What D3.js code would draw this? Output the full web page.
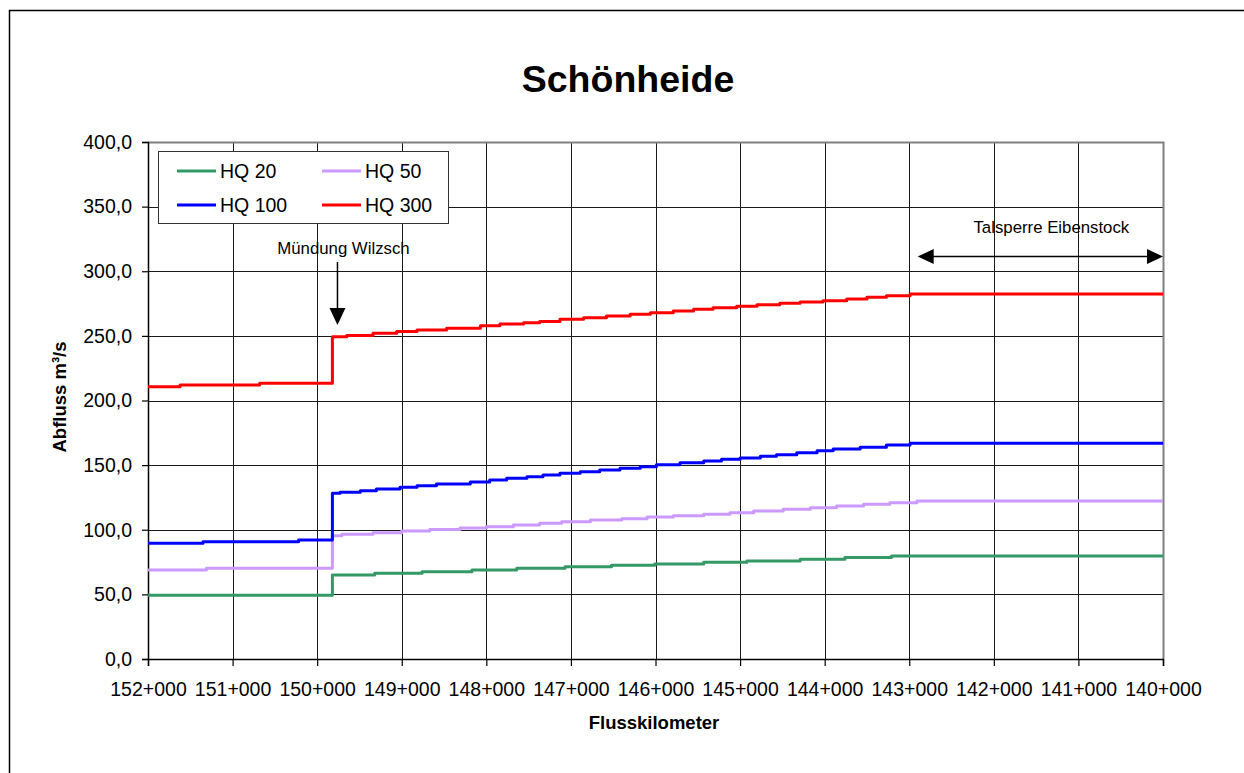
<!DOCTYPE html>
<html>
<head>
<meta charset="utf-8">
<script src="https://cdn.jsdelivr.net/npm/d3@7"></script>
<style>
  html, body { margin: 0; padding: 0; background: #fff; }
  svg { display: block; font-family: "Liberation Sans", Arial, sans-serif; }
</style>
</head>
<body>
<svg id="chart" width="1244" height="773"></svg>
<script>
// River kilometre ticks (flow direction left to right) and discharge ticks
const kmTicks = [152, 151, 150, 149, 148, 147, 146, 145, 144, 143, 142, 141, 140];
const qTicks = [0, 50, 100, 150, 200, 250, 300, 350, 400];

// Discharge profiles [km, m³/s]; each value holds until the next station
const hq20 = [
  [152.00, 49.3], [149.82, 65.0], [149.32, 66.3], [148.76, 67.6], [148.17, 68.9],
  [147.64, 70.3], [147.07, 71.4], [146.52, 72.5], [146.01, 73.5], [145.43, 74.8],
  [144.92, 75.8], [144.29, 77.1], [143.76, 78.5], [143.21, 79.7], [140.00, 79.7]
];
const hq50 = [
  [152.00, 68.9], [151.31, 70.2], [149.82, 95.4], [149.71, 96.5], [149.34, 97.7],
  [149.00, 99.0], [148.67, 100.1], [148.31, 101.4], [148.00, 102.4], [147.68, 103.7],
  [147.37, 105.0], [147.11, 106.2], [146.77, 107.5], [146.40, 108.6], [146.10, 109.9],
  [145.79, 110.9], [145.43, 112.0], [145.12, 113.2], [144.84, 114.5], [144.49, 115.8],
  [144.17, 117.1], [143.86, 118.4], [143.54, 119.7], [143.23, 120.9], [142.91, 122.2],
  [140.00, 122.2]
];
const hq100 = [
  [152.00, 89.5], [151.35, 90.8], [150.22, 92.1], [149.82, 128.2], [149.73, 129.0],
  [149.49, 130.2], [149.30, 131.5], [149.02, 132.8], [148.82, 134.1], [148.59, 135.4],
  [148.19, 137.0], [147.96, 138.5], [147.76, 139.8], [147.52, 141.1], [147.33, 142.4],
  [147.13, 143.7], [146.89, 144.9], [146.66, 146.2], [146.42, 147.5], [146.18, 148.8],
  [145.99, 150.3], [145.71, 151.9], [145.43, 153.2], [145.22, 154.5], [145.00, 155.5],
  [144.76, 156.8], [144.57, 158.1], [144.33, 159.6], [144.09, 161.2], [143.90, 162.5],
  [143.58, 163.8], [143.27, 165.6], [142.99, 166.9], [140.00, 166.9]
];
const hq300 = [
  [152.00, 210.7], [151.62, 212.0], [150.68, 213.3], [149.82, 249.4], [149.65, 250.2],
  [149.34, 252.0], [149.06, 253.3], [148.82, 254.5], [148.47, 255.9], [148.07, 257.9],
  [147.84, 259.2], [147.56, 260.2], [147.37, 261.2], [147.13, 262.8], [146.85, 264.1],
  [146.58, 265.4], [146.30, 266.7], [146.06, 267.9], [145.79, 269.2], [145.55, 270.6],
  [145.32, 271.8], [145.04, 272.9], [144.80, 274.1], [144.53, 275.2], [144.29, 276.2],
  [144.02, 277.2], [143.74, 278.5], [143.50, 279.8], [143.27, 281.1], [142.99, 282.4],
  [140.00, 282.4]
];

const seriesNames = ["HQ 20", "HQ 50", "HQ 100", "HQ 300"];
const seriesColors = ["#339966", "#CC99FF", "#0000FF", "#FF0000"];
const seriesData = [hq20, hq50, hq100, hq300];

// Annotations: tributary mouth and reservoir reach
const mouthKm = 149.76;
const reservoirFrom = 142.9, reservoirTo = 140.0;

const svg = d3.select("#chart");
const plotLeft = 148, plotRight = 1163, plotTop = 142, plotBottom = 659;

const x = d3.scaleLinear().domain([152, 140]).range([plotLeft, plotRight]);
const y = d3.scaleLinear().domain([0, 400]).range([plotBottom, plotTop]);

// Outer chart frame
svg.append("rect")
  .attr("x", 9.5).attr("y", 10.5).attr("width", 1400).attr("height", 1000)
  .attr("fill", "#fff").attr("stroke", "#000").attr("stroke-width", 1.5);

// Title
svg.append("text")
  .attr("x", 628).attr("y", 92)
  .attr("text-anchor", "middle")
  .attr("font-size", 37.5).attr("font-weight", "bold")
  .text("Schönheide");

// Grid
const grid = svg.append("g").attr("shape-rendering", "crispEdges");
grid.selectAll("line.v").data(kmTicks).join("line")
  .attr("x1", d => Math.round(x(d)) + 0.5).attr("x2", d => Math.round(x(d)) + 0.5)
  .attr("y1", plotTop).attr("y2", plotBottom)
  .attr("stroke", "#1a1a1a").attr("stroke-width", 1);
grid.selectAll("line.h").data(qTicks).join("line")
  .attr("y1", d => Math.round(y(d)) + 0.5).attr("y2", d => Math.round(y(d)) + 0.5)
  .attr("x1", plotLeft).attr("x2", plotRight)
  .attr("stroke", "#1a1a1a").attr("stroke-width", 1);

// Plot area border (top and right)
svg.append("path")
  .attr("d", `M${plotLeft},${plotTop + 0.5}H${plotRight + 0.5}V${plotBottom}`)
  .attr("fill", "none").attr("stroke", "#808080").attr("stroke-width", 2);

// Axes
const fmtQ = d => d3.format(".1f")(d).replace(".", ",");
const yAxis = svg.append("g")
  .attr("transform", `translate(${plotLeft},0)`)
  .call(d3.axisLeft(y).tickValues(qTicks).tickFormat(fmtQ).tickSize(6).tickPadding(10));
const xAxis = svg.append("g")
  .attr("transform", `translate(0,${plotBottom})`)
  .call(d3.axisBottom(x).tickValues(kmTicks).tickFormat(d => d + "+000").tickSize(7).tickPadding(16));
[yAxis, xAxis].forEach(g => {
  g.select(".domain").attr("stroke", "#000").attr("stroke-width", 1.5);
  g.selectAll(".tick line").attr("stroke", "#000").attr("stroke-width", 1.2);
  g.selectAll(".tick text").attr("font-size", 19.5).attr("fill", "#000")
    .attr("font-family", "'Liberation Sans', Arial, sans-serif");
});

// Axis titles
svg.append("text")
  .attr("transform", "translate(66,397) rotate(-90)")
  .attr("text-anchor", "middle")
  .attr("font-size", 18.5).attr("font-weight", "bold")
  .text("Abfluss m³/s");
svg.append("text")
  .attr("x", 654).attr("y", 729)
  .attr("text-anchor", "middle")
  .attr("font-size", 18.5).attr("font-weight", "bold")
  .text("Flusskilometer");

// Discharge lines
const line = d3.line().x(d => x(d[0])).y(d => y(d[1])).curve(d3.curveStepAfter);
svg.append("g").selectAll("path").data(seriesData).join("path")
  .attr("d", line)
  .attr("fill", "none")
  .attr("stroke", (d, i) => seriesColors[i])
  .attr("stroke-width", 3)
  .attr("stroke-linejoin", "round");

// Mouth of the Wilzsch
const mx = x(mouthKm);
svg.append("text")
  .attr("x", mx + 6).attr("y", 254)
  .attr("text-anchor", "middle").attr("font-size", 16.8)
  .text("Mündung Wilzsch");
svg.append("line")
  .attr("x1", mx).attr("x2", mx).attr("y1", 262).attr("y2", 310)
  .attr("stroke", "#000").attr("stroke-width", 1.5);
svg.append("path")
  .attr("d", `M${mx - 8},308L${mx + 8},308L${mx},325Z`)
  .attr("fill", "#000");

// Reservoir reach
const ax1 = x(reservoirFrom), ax2 = x(reservoirTo), ay = 256.5;
svg.append("text")
  .attr("x", (ax1 + ax2) / 2 + 11).attr("y", 232.5)
  .attr("text-anchor", "middle").attr("font-size", 16.8)
  .text("Talsperre Eibenstock");
svg.append("line")
  .attr("x1", ax1 + 10).attr("x2", ax2 - 10).attr("y1", ay).attr("y2", ay)
  .attr("stroke", "#000").attr("stroke-width", 1.5);
svg.append("path")
  .attr("d", `M${ax1},${ay}L${ax1 + 16},${ay - 7.5}L${ax1 + 16},${ay + 7.5}Z`)
  .attr("fill", "#000");
svg.append("path")
  .attr("d", `M${ax2},${ay}L${ax2 - 16},${ay - 7.5}L${ax2 - 16},${ay + 7.5}Z`)
  .attr("fill", "#000");

// Legend
const legend = svg.append("g");
legend.append("rect")
  .attr("x", 158.5).attr("y", 151.5).attr("width", 290).attr("height", 72)
  .attr("fill", "#fff").attr("stroke", "#333").attr("stroke-width", 1);
const legendPos = [[177, 171], [322, 171], [177, 205], [322, 205]];
seriesNames.forEach((name, i) => {
  const [lx, ly] = legendPos[i];
  legend.append("line")
    .attr("x1", lx).attr("x2", lx + 39).attr("y1", ly).attr("y2", ly)
    .attr("stroke", seriesColors[i]).attr("stroke-width", 3);
  legend.append("text")
    .attr("x", lx + 43).attr("y", ly + 6.8)
    .attr("font-size", 19.5)
    .text(name);
});
</script>
</body>
</html>
